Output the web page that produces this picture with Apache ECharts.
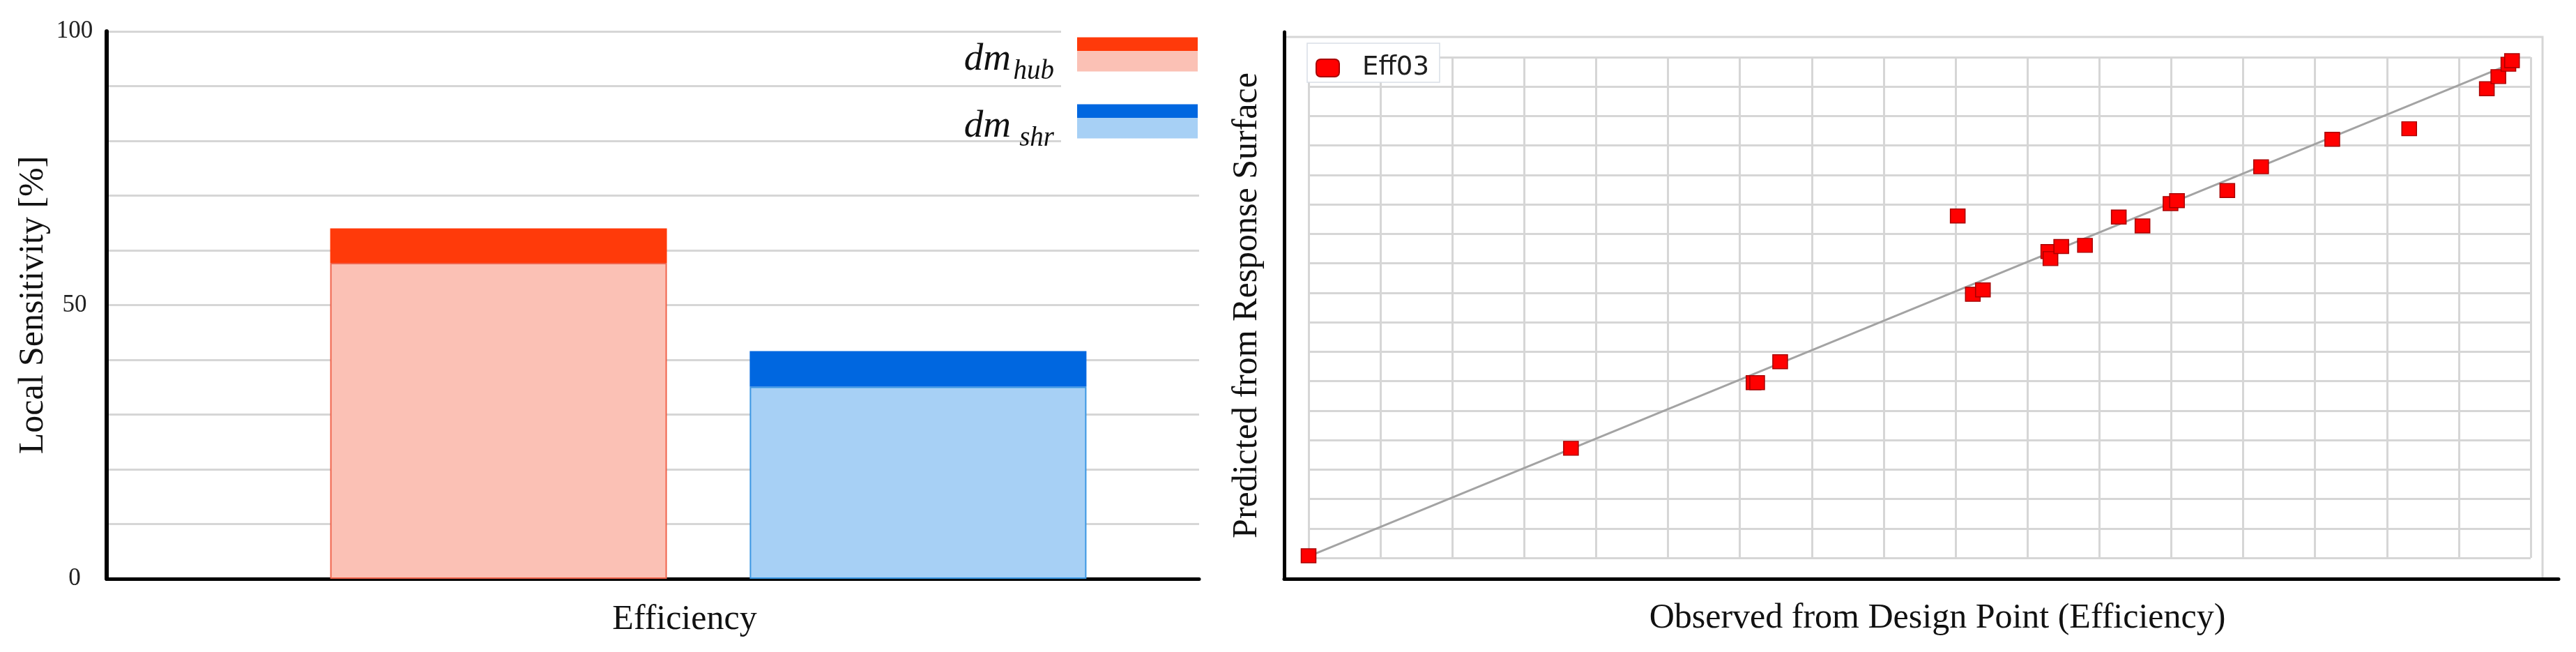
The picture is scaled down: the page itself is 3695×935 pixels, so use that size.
<!DOCTYPE html>
<html>
<head>
<meta charset="utf-8">
<title>Local sensitivity and response surface fit</title>
<script src="https://cdn.jsdelivr.net/npm/echarts@6/dist/echarts.min.js"></script>
<style>
  html, body { margin: 0; padding: 0; background: #fff; }
  #chart { width: 3695px; height: 935px; }
</style>
</head>
<body>
<div id="chart"></div>
<script>
// left panel: local sensitivity of efficiency
const categories = ["Efficiency"];
const hubBase = [57.7];
const hubCap = [6.3];
const shrBase = [35.1];
const shrCap = [6.5];
const sensTicks = [0, 50, 100];

// right panel: observed vs predicted (grid units, axes carry no labels)
const observed = [0.0, 3.65, 6.19, 6.24, 6.56, 9.03, 9.24, 9.38, 10.29, 10.32, 10.47, 10.8,
  11.27, 11.6, 11.99, 12.08, 12.78, 13.25, 14.24, 15.31, 16.39, 16.55, 16.69, 16.74];
const predicted = [0.07, 3.72, 5.95, 5.95, 6.66, 11.61, 8.95, 9.1, 10.4, 10.16, 10.57, 10.61,
  11.57, 11.27, 12.03, 12.13, 12.47, 13.28, 14.21, 14.57, 15.93, 16.34, 16.76, 16.88];
const fitLine = [[0, 0.05], [16.8, 16.85]];

const SERIF = "Liberation Serif";
const HUB = { light: "#fbc1b5", edge: "#f0644c", dark: "#ff3a0a" };
const SHR = { light: "#a7d0f5", edge: "#3b97e3", dark: "#0067e0" };
const GRID_GRAY = "#d6d6d6";

function twoTone(c) {
  return new echarts.graphic.LinearGradient(0, 0, 0, 1, [
    { offset: 0, color: c.dark },
    { offset: 0.39, color: c.dark },
    { offset: 0.39, color: c.light },
    { offset: 1, color: c.light },
  ]);
}

function barSeries(name, stack, values, color, edge) {
  return {
    name, type: "bar", stack, xAxisIndex: 1, yAxisIndex: 1,
    barWidth: 483, barGap: "24.6%",
    itemStyle: { color, borderColor: edge || color, borderWidth: edge ? 2 : 0 },
    data: values,
  };
}

const chart = echarts.init(document.getElementById("chart"));
chart.setOption({
  animation: false,
  backgroundColor: "#fff",
  grid: [
    { left: 153, top: 45, width: 1567, height: 785 },
    { left: 153, top: 45, width: 1726, height: 785 },
    { left: 1877, top: 82, width: 1753, height: 718 },
    { left: 1842, top: 53, width: 1805, height: 777, show: true, borderColor: GRID_GRAY, borderWidth: 3 },
    { left: 1842, top: 46, width: 1828, height: 784 },
  ],
  graphic: [
    { type: "rect", left: 1522, top: 30, shape: { width: 200, height: 182 }, style: { fill: "#fff" }, z: 3 },
  ],
  legend: [
    {
      data: [
        { name: "dm_hub", itemStyle: { color: twoTone(HUB), borderWidth: 0 } },
        { name: "dm_shr", itemStyle: { color: twoTone(SHR), borderWidth: 0 } },
      ],
      orient: "vertical", align: "right", right: 1977, top: 49, padding: 0,
      icon: "rect", itemWidth: 173, itemHeight: 49, itemGap: 23,
      formatter: (name) => {
        const [main, sub] = name.split("_");
        return `{m|${main}}{s|${sub}}`;
      },
      textStyle: {
        padding: [15, 28, 0, 0],
        rich: {
          m: { fontFamily: SERIF, fontStyle: "italic", fontSize: 55, lineHeight: 50, color: "#111" },
          s: { fontFamily: SERIF, fontStyle: "italic", fontSize: 39, lineHeight: 38, padding: [34, 0, 0, 0], width: 62, color: "#111" },
        },
      },
    },
    {
      data: ["Eff03"],
      left: 1875, top: 62, padding: [17, 15, 2, 12],
      backgroundColor: "#fff", borderColor: "#d9dee6", borderWidth: 1.5,
      icon: "roundRect", itemWidth: 33, itemHeight: 25,
      textStyle: { fontFamily: "DejaVu Sans", fontSize: 37, color: "#1e1e1e", padding: [0, 0, 0, 28] },
    },
  ],
  xAxis: [
    {
      gridIndex: 0, type: "category", data: categories,
      axisLine: { lineStyle: { color: "#000", width: 5 } },
      axisTick: { show: false }, axisLabel: { show: false },
    },
    {
      gridIndex: 1, type: "category", data: categories,
      axisLine: { show: false }, axisTick: { show: false },
      axisLabel: { fontFamily: SERIF, fontSize: 50, color: "#111", margin: 34, padding: [0, 68, 0, 0] },
    },
    {
      gridIndex: 2, type: "value", min: 0, max: 17, interval: 1,
      axisLine: { show: false }, axisTick: { show: false }, axisLabel: { show: false },
      splitLine: { lineStyle: { color: GRID_GRAY, width: 3 } },
    },
    { gridIndex: 3, type: "value", min: 0, max: 1, show: false },
    {
      gridIndex: 4, type: "value", min: 0, max: 1, z: 5,
      axisLine: { onZero: false, lineStyle: { color: "#000", width: 5 } },
      axisTick: { show: false }, axisLabel: { show: false }, splitLine: { show: false },
      name: "Observed from Design Point (Efficiency)", nameLocation: "middle", nameGap: 32,
      nameTextStyle: { fontFamily: SERIF, fontSize: 50, color: "#111", padding: [0, 0, 0, 46] },
    },
  ],
  yAxis: [
    {
      gridIndex: 0, type: "value", min: 0, max: 100, interval: 10,
      axisLine: { show: true, lineStyle: { color: "#000", width: 6 } },
      axisTick: { show: false },
      splitLine: { lineStyle: { color: GRID_GRAY, width: 3 } },
      axisLabel: {
        fontFamily: SERIF, fontSize: 35, color: "#222", align: "center", margin: 46,
        formatter: (v) => (sensTicks.includes(v) ? String(v) : ""),
      },
      name: "Local Sensitivity [%]", nameLocation: "middle", nameGap: 80,
      nameTextStyle: { fontFamily: SERIF, fontSize: 50, color: "#111" },
    },
    { gridIndex: 1, type: "value", min: 0, max: 100, show: false },
    {
      gridIndex: 2, type: "value", min: 0, max: 17, interval: 1,
      axisLine: { show: false }, axisTick: { show: false }, axisLabel: { show: false },
      splitLine: { lineStyle: { color: GRID_GRAY, width: 3 } },
    },
    { gridIndex: 3, type: "value", min: 0, max: 1, show: false },
    {
      gridIndex: 4, type: "value", min: 0, max: 1, z: 5,
      axisLine: { show: true, onZero: false, lineStyle: { color: "#000", width: 5 } },
      axisTick: { show: false }, axisLabel: { show: false }, splitLine: { show: false },
      name: "Predicted from Response Surface", nameLocation: "middle", nameGap: 28,
      nameTextStyle: { fontFamily: SERIF, fontSize: 50, color: "#111" },
    },
  ],
  series: [
    barSeries("dm_hub", "hub", hubBase, HUB.light, HUB.edge),
    barSeries("hub cap", "hub", hubCap, HUB.dark),
    barSeries("dm_shr", "shr", shrBase, SHR.light, SHR.edge),
    barSeries("shr cap", "shr", shrCap, SHR.dark),
    {
      name: "fit", type: "line", xAxisIndex: 2, yAxisIndex: 2, z: 1,
      showSymbol: false, silent: true,
      lineStyle: { color: "#a3a3a3", width: 3 },
      data: fitLine,
    },
    {
      name: "Eff03", type: "scatter", xAxisIndex: 2, yAxisIndex: 2, z: 3,
      symbol: "rect", symbolSize: [21, 20],
      itemStyle: { color: "#ff0000", borderColor: "#a80000", borderWidth: 1.5, opacity: 1 },
      data: observed.map((x, i) => [x, predicted[i]]),
    },
  ],
});
</script>
</body>
</html>
